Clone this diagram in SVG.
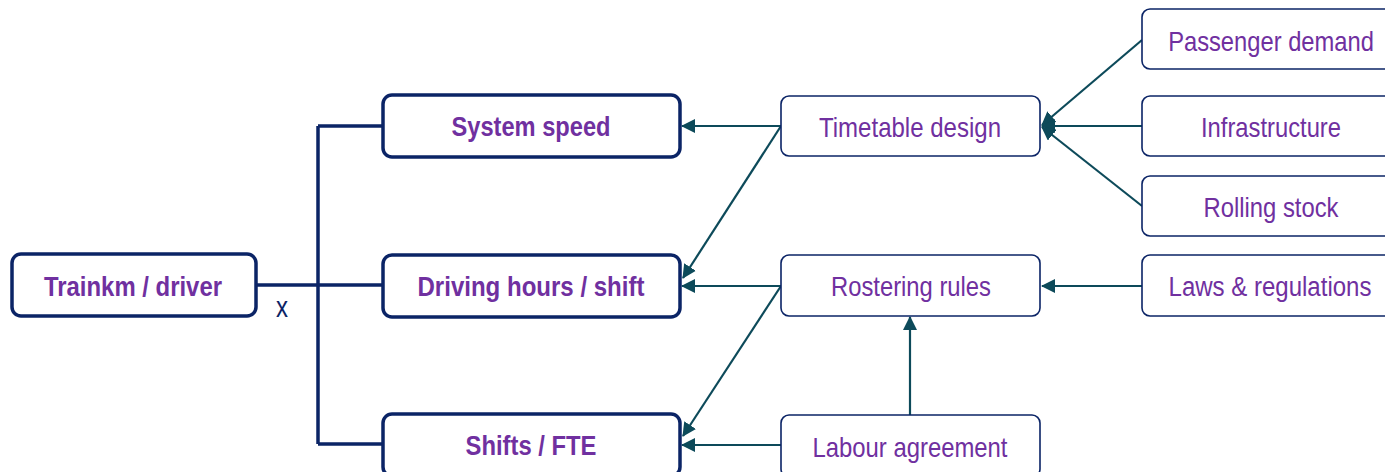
<svg xmlns="http://www.w3.org/2000/svg" width="1385" height="472" viewBox="0 0 1385 472">
<defs>
<style>
.bold rect{fill:#fff;stroke:#0b2466;stroke-width:3.5}
.thin rect{fill:#fff;stroke:#0b2466;stroke-width:1.6}
text{font-family:"Liberation Sans",Arial,sans-serif;font-size:28px;fill:#7030a0;text-anchor:middle}
.bold text{font-weight:bold}
.tree{fill:none;stroke:#0b2466;stroke-width:3.5}
.arr{fill:none;stroke:#0d4a5a;stroke-width:2.2;marker-end:url(#ah)}
</style>
<marker id="ah" viewBox="0 0 14 14" refX="13" refY="7" markerWidth="14" markerHeight="14" markerUnits="userSpaceOnUse" orient="auto">
<path d="M0,0 L14,7 L0,14 Z" fill="#0d4a5a"/>
</marker>
</defs>
<g id="connectors">
<path class="tree" d="M256,285 H383 M318,126 V444 M318,126 H383 M318,444 H383"/>
<text x="282" y="317" textLength="12" lengthAdjust="spacingAndGlyphs" style="font-size:30px;fill:#0b2466;font-weight:normal">x</text>
<line class="arr" x1="781" y1="126" x2="682" y2="126"/>
<line class="arr" x1="781" y1="126" x2="683" y2="278"/>
<line class="arr" x1="781" y1="286" x2="682" y2="286"/>
<line class="arr" x1="781" y1="286" x2="683" y2="436"/>
<line class="arr" x1="781" y1="445" x2="682" y2="445"/>
<line class="arr" x1="910" y1="415" x2="910" y2="317"/>
<line class="arr" x1="1142" y1="40" x2="1042" y2="125"/>
<line class="arr" x1="1142" y1="126" x2="1042" y2="126"/>
<line class="arr" x1="1142" y1="206" x2="1042" y2="127"/>
<line class="arr" x1="1142" y1="286" x2="1042" y2="286"/>
</g>
<g id="n-trainkm" class="bold"><rect x="12" y="254" width="244" height="62" rx="9"/><text x="133" y="296" textLength="178" lengthAdjust="spacingAndGlyphs">Trainkm / driver</text></g>
<g id="n-speed" class="bold"><rect x="383" y="95" width="297" height="62" rx="9"/><text x="531" y="136" textLength="159" lengthAdjust="spacingAndGlyphs">System speed</text></g>
<g id="n-hours" class="bold"><rect x="383" y="255" width="297" height="62" rx="9"/><text x="531" y="296" textLength="227" lengthAdjust="spacingAndGlyphs">Driving hours / shift</text></g>
<g id="n-shifts" class="bold"><rect x="383" y="414" width="297" height="62" rx="9"/><text x="531" y="455" textLength="131" lengthAdjust="spacingAndGlyphs">Shifts / FTE</text></g>
<g id="n-timetable" class="thin"><rect x="781" y="96" width="259" height="60" rx="8"/><text x="910" y="137" textLength="182" lengthAdjust="spacingAndGlyphs">Timetable design</text></g>
<g id="n-roster" class="thin"><rect x="781" y="255" width="259" height="61" rx="8"/><text x="911" y="296" textLength="160" lengthAdjust="spacingAndGlyphs">Rostering rules</text></g>
<g id="n-labour" class="thin"><rect x="781" y="415" width="259" height="62" rx="8"/><text x="910" y="457" textLength="195" lengthAdjust="spacingAndGlyphs">Labour agreement</text></g>
<g id="n-passenger" class="thin"><rect x="1142" y="9" width="260" height="60" rx="8"/><text transform="translate(1271,51) scale(0.848,1)" x="0" y="0">Passenger demand</text></g>
<g id="n-infra" class="thin"><rect x="1142" y="96" width="260" height="60" rx="8"/><text x="1271" y="137" textLength="140" lengthAdjust="spacingAndGlyphs">Infrastructure</text></g>
<g id="n-rolling" class="thin"><rect x="1142" y="176" width="260" height="60" rx="8"/><text x="1271" y="217" textLength="135" lengthAdjust="spacingAndGlyphs">Rolling stock</text></g>
<g id="n-laws" class="thin"><rect x="1142" y="255" width="260" height="61" rx="8"/><text transform="translate(1270,296) scale(0.858,1)" x="0" y="0">Laws &amp; regulations</text></g>
</svg>
